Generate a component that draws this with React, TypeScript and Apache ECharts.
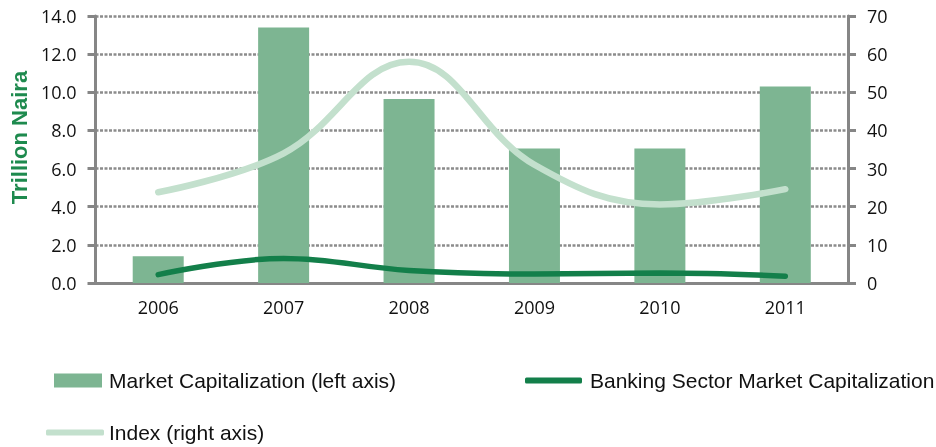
import React, { useEffect, useRef } from "react";
import * as echarts from "echarts";

const years = ["2006", "2007", "2008", "2009", "2010", "2011"];
const marketCap = [1.4, 13.4, 9.65, 7.05, 7.05, 10.3];
const bankingCap = [0.44, 1.29, 0.66, 0.47, 0.52, 0.36];
const indexValues = [23.8, 34.0, 58.0, 31.0, 20.6, 24.6];
const leftTicks = { min: 0, max: 14, interval: 2 };
const rightTicks = { min: 0, max: 70, interval: 10 };

const NAME_BAR = "Market Capitalization (left axis)";
const NAME_BANK = "Banking Sector Market Capitalization";
const NAME_INDEX = "Index (right axis)";

const FONT = "'Open Sans', 'Liberation Sans', sans-serif";
const LEG_FONT = "'Liberation Sans', sans-serif";

export default function App() {
  const ref = useRef<HTMLDivElement>(null);
  useEffect(() => {
    if (!ref.current) return;
    const chart = echarts.init(ref.current, null, { renderer: "svg" });
    const axisLine = { show: true, lineStyle: { color: "#868686", width: 3 } };
    const axisTick = { show: true, length: 8, lineStyle: { color: "#868686", width: 3 } };
    const splitLine = { show: true, lineStyle: { color: "#8c8c8c", width: 2.5, type: [3, 1.5] as any } };
    const legendText = { fontFamily: LEG_FONT, fontSize: 21, color: "#111" };
    chart.setOption({
      animation: false,
      grid: { left: 90, right: 88, top: 16, bottom: 164, containLabel: false },
      legend: [
        {
          data: [NAME_BAR], left: 54, top: 370, padding: 0, itemWidth: 48, itemHeight: 14,
          icon: "rect", textStyle: { ...legendText, padding: [0, 0, 0, 2] }, selectedMode: false,
        },
        {
          data: [NAME_BANK], left: 525, top: 370, padding: 0, itemWidth: 57, itemHeight: 6,
          icon: "roundRect", textStyle: { ...legendText, padding: [0, 0, 0, 3] }, selectedMode: false,
        },
        {
          data: [NAME_INDEX], left: 46, top: 422, padding: 0, itemWidth: 58, itemHeight: 6,
          icon: "roundRect", textStyle: { ...legendText, padding: [0, 0, 0, 0] }, selectedMode: false,
        },
      ],
      xAxis: {
        type: "category",
        data: years,
        axisLine,
        axisTick: { show: false },
        axisLabel: { fontFamily: FONT, fontSize: 18, color: "#111", margin: 15 },
      },
      yAxis: [
        {
          type: "value",
          ...leftTicks,
          name: "Trillion Naira",
          nameLocation: "middle",
          nameGap: 60,
          nameRotate: 90,
          nameTextStyle: {
            fontFamily: LEG_FONT, fontSize: 22, fontWeight: "bold", color: "#1E8A4E",
            padding: [0, 0, 0, 24],
          },
          axisLine,
          axisTick,
          splitLine,
          axisLabel: {
            fontFamily: FONT, fontSize: 18, color: "#111", margin: 19,
            formatter: (v: number) => v.toFixed(1),
          },
        },
        {
          type: "value",
          ...rightTicks,
          position: "right",
          axisLine,
          axisTick,
          splitLine: { show: false },
          axisLabel: { fontFamily: FONT, fontSize: 18, color: "#111", margin: 19 },
        },
      ],
      series: [
        {
          name: NAME_BAR,
          type: "bar",
          data: marketCap,
          barWidth: 51,
          itemStyle: { color: "#7DB592" },
          yAxisIndex: 0,
          z: 2,
        },
        {
          name: NAME_INDEX,
          type: "line",
          data: indexValues,
          yAxisIndex: 1,
          smooth: 0.4,
          showSymbol: false,
          symbol: "none",
          lineStyle: { color: "#C3E0CD", width: 6.5, cap: "round" },
          itemStyle: { color: "#C3E0CD" },
          z: 3,
        },
        {
          name: NAME_BANK,
          type: "line",
          data: bankingCap,
          yAxisIndex: 0,
          smooth: 0.4,
          showSymbol: false,
          symbol: "none",
          lineStyle: { color: "#137F4A", width: 5.5, cap: "round" },
          itemStyle: { color: "#137F4A" },
          z: 4,
        },
      ],
    });
    return () => chart.dispose();
  }, []);
  return (
    <div
      ref={ref}
      style={{ position: "fixed", left: 0, top: 0, width: 936, height: 447 }}
    />
  );
}
